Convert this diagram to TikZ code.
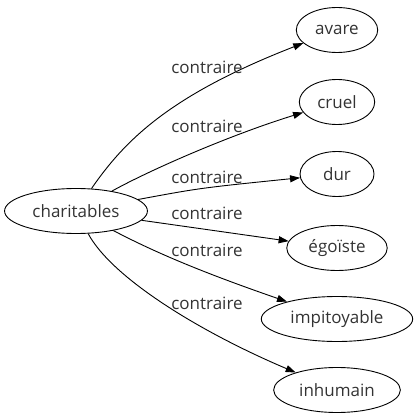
\documentclass[tikz,border=0pt]{standalone}
\usepackage{fontspec}
\setmainfont{Open Sans}
\usepackage{tikz}
\usetikzlibrary{arrows.meta,shapes.geometric}

\begin{document}
\begin{tikzpicture}[
    x=1pt,y=-1pt,
    font=\fontsize{17}{20}\selectfont,
    >={Triangle[length=10pt,width=7pt]},
    flow/.style={->,draw=black,line width=0.9pt},
    word/.style={ellipse,draw=black,line width=0.9pt,text=black!80,
      inner xsep=7pt,minimum width=74pt,minimum height=45pt},
    rel/.style={text=black!80,inner sep=0pt}
  ]
    \useasboundingbox (0,0) rectangle (418,419);

    \node[word] (charitables) at (76,211) {charitables};
    \node[word] (avare) at (337,30) {avare};
    \node[word] (cruel) at (337,102) {cruel};
    \node[word] (dur) at (337,174) {dur};
    \node[word] (egoiste) at (337,248) {égoïste};
    \node[word] (impitoyable) at (337,319) {impitoyable};
    \node[word] (inhumain) at (337,390) {inhumain};

    \draw[flow] (charitables) .. controls (125,140) and (170,95) .. (avare);
    \draw[flow] (charitables) .. controls (150,170) and (230,135) .. (cruel);
    \draw[flow] (charitables) .. controls (200,188) .. (dur);
    \draw[flow] (charitables) -- (egoiste);
    \draw[flow] (charitables) .. controls (160,255) and (210,275) .. (impitoyable);
    \draw[flow] (charitables) .. controls (112,278) and (200,332) .. (inhumain);

    \node[rel] (relavare) at (207,67) {contraire};
    \node[rel] (relcruel) at (207,126) {contraire};
    \node[rel] (reldur) at (207,177) {contraire};
    \node[rel] (relegoiste) at (207,213) {contraire};
    \node[rel] (relimpitoyable) at (207,250) {contraire};
    \node[rel] (relinhumain) at (207,303) {contraire};
  \end{tikzpicture}
\end{document}
